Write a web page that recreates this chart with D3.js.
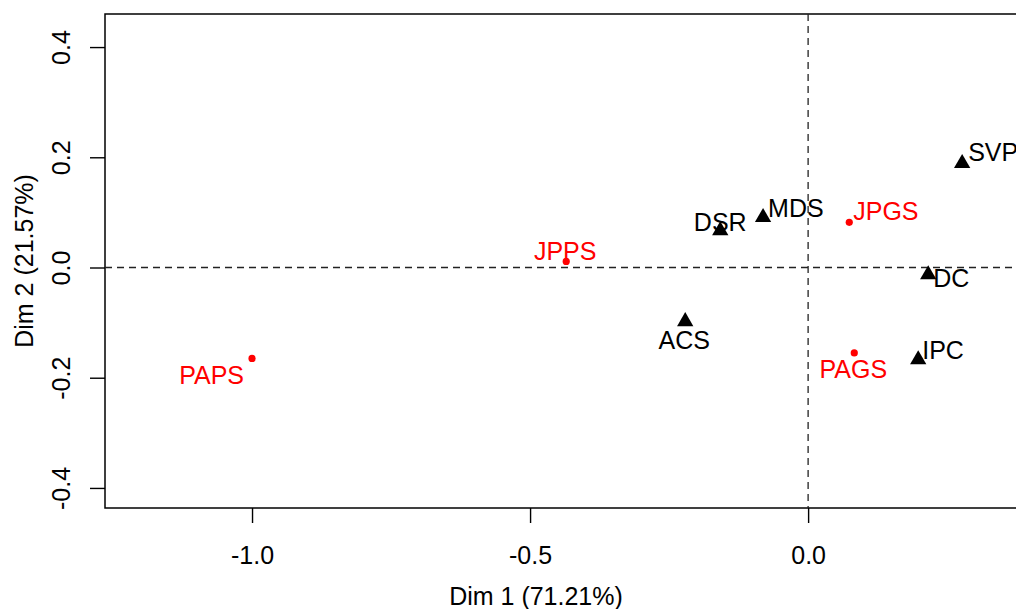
<!DOCTYPE html>
<html>
<head>
<meta charset="utf-8">
<script src="https://cdn.jsdelivr.net/npm/d3@7"></script>
<style>
  body { margin: 0; background: #fff; }
  svg { display: block; font-family: "Liberation Sans", Arial, sans-serif; }
</style>
</head>
<body>
<div id="chart"></div>
<script>
// rows (red dots)
const rowNames = ["PAPS", "JPPS", "JPGS", "PAGS"];
const rowDim1 = [-1.0, -0.435, 0.074, 0.083];
const rowDim2 = [-0.165, 0.011, 0.082, -0.155];

// columns (black triangles)
const colNames = ["SVP", "MDS", "DSR", "DC", "IPC", "ACS"];
const colDim1 = [0.277, -0.081, -0.158, 0.216, 0.198, -0.221];
const colDim2 = [0.189, 0.091, 0.067, -0.013, -0.167, -0.098];

const xTicks = [-1.0, -0.5, 0.0];
const yTicks = [-0.4, -0.2, 0.0, 0.2, 0.4];
const xTitle = "Dim 1 (71.21%)";
const yTitle = "Dim 2 (21.57%)";

// label placement: [anchor, dx, dy(baseline)]
const rowLabelPos = [["end", -8, 26], ["middle", -1, -1], ["start", 4, -2], ["middle", -1, 25]];
const colLabelPos = [["start", 6, -2], ["start", 5, 0], ["middle", 0, 0], ["start", 5, 12], ["start", 4, -1], ["middle", -1, 27]];

const W = 1016, H = 609;
const margin = { top: 14, left: 105, bottom: 101 };
const plotRight = 1040; // the right edge falls outside the picture

const svg = d3.select("#chart").append("svg")
  .attr("width", W)
  .attr("height", H);

const x = d3.scaleLinear().domain([-1.2644, 0.417]).range([margin.left, plotRight]);
const y = d3.scaleLinear().domain([-0.4364, 0.46]).range([H - margin.bottom, margin.top]);

const fs = 25;
const fmt = (d) => d3.format(".1f")(d).replace("−", "-");

// axes
const xAxis = d3.axisBottom(x).tickValues(xTicks).tickSize(15).tickPadding(23);
const xAxisG = svg.append("g")
  .attr("transform", "translate(0," + (H - margin.bottom) + ")")
  .call(xAxis);
xAxisG.select(".domain").remove();
xAxisG.selectAll("text").attr("font-size", fs).attr("fill", "#000").text(fmt);
xAxisG.selectAll("line").attr("stroke", "#000").attr("stroke-width", 1.4);

const yAxis = d3.axisLeft(y).tickValues(yTicks).tickSize(15);
const yAxisG = svg.append("g")
  .attr("transform", "translate(" + margin.left + ",0)")
  .call(yAxis);
yAxisG.select(".domain").remove();
yAxisG.selectAll("line").attr("stroke", "#000").attr("stroke-width", 1.4);
yAxisG.selectAll("text")
  .attr("font-size", fs)
  .attr("fill", "#000")
  .attr("x", 0)
  .attr("y", 0)
  .attr("dy", null)
  .attr("text-anchor", "middle")
  .attr("transform", "translate(-35,0) rotate(-90)")
  .text(fmt);

// box
svg.append("rect")
  .attr("x", margin.left)
  .attr("y", margin.top)
  .attr("width", plotRight - margin.left)
  .attr("height", H - margin.bottom - margin.top)
  .attr("fill", "none")
  .attr("stroke", "#000")
  .attr("stroke-width", 1.5);

// reference lines
svg.append("line")
  .attr("x1", x(0)).attr("x2", x(0))
  .attr("y1", margin.top).attr("y2", H - margin.bottom)
  .attr("stroke", "#222").attr("stroke-width", 1.3)
  .attr("stroke-dasharray", "7,5");
svg.append("line")
  .attr("x1", margin.left).attr("x2", plotRight)
  .attr("y1", y(0)).attr("y2", y(0))
  .attr("stroke", "#222").attr("stroke-width", 1.3)
  .attr("stroke-dasharray", "7,5");

// axis titles
svg.append("text")
  .attr("x", 536)
  .attr("y", 605)
  .attr("text-anchor", "middle")
  .attr("font-size", fs)
  .text(xTitle);
svg.append("text")
  .attr("transform", "translate(33," + (margin.top + H - margin.bottom) / 2 + ") rotate(-90)")
  .attr("text-anchor", "middle")
  .attr("font-size", fs)
  .text(yTitle);

const rows = rowNames.map((n, i) => ({ name: n, d1: rowDim1[i], d2: rowDim2[i], pos: rowLabelPos[i] }));
const cols = colNames.map((n, i) => ({ name: n, d1: colDim1[i], d2: colDim2[i], pos: colLabelPos[i] }));

const tri = d3.symbol().type(d3.symbolTriangle).size(115);

svg.append("g").selectAll("path")
  .data(cols)
  .join("path")
  .attr("d", tri)
  .attr("transform", (d) => "translate(" + x(d.d1) + "," + y(d.d2) + ")")
  .attr("fill", "#000");

svg.append("g").selectAll("text")
  .data(cols)
  .join("text")
  .attr("x", (d) => x(d.d1) + d.pos[1])
  .attr("y", (d) => y(d.d2) + d.pos[2])
  .attr("text-anchor", (d) => d.pos[0])
  .attr("font-size", fs)
  .attr("fill", "#000")
  .text((d) => d.name);

svg.append("g").selectAll("circle")
  .data(rows)
  .join("circle")
  .attr("cx", (d) => x(d.d1))
  .attr("cy", (d) => y(d.d2))
  .attr("r", 3.6)
  .attr("fill", "#ff0000");

svg.append("g").selectAll("text")
  .data(rows)
  .join("text")
  .attr("x", (d) => x(d.d1) + d.pos[1])
  .attr("y", (d) => y(d.d2) + d.pos[2])
  .attr("text-anchor", (d) => d.pos[0])
  .attr("font-size", fs)
  .attr("fill", "#ff0000")
  .text((d) => d.name);
</script>
</body>
</html>
